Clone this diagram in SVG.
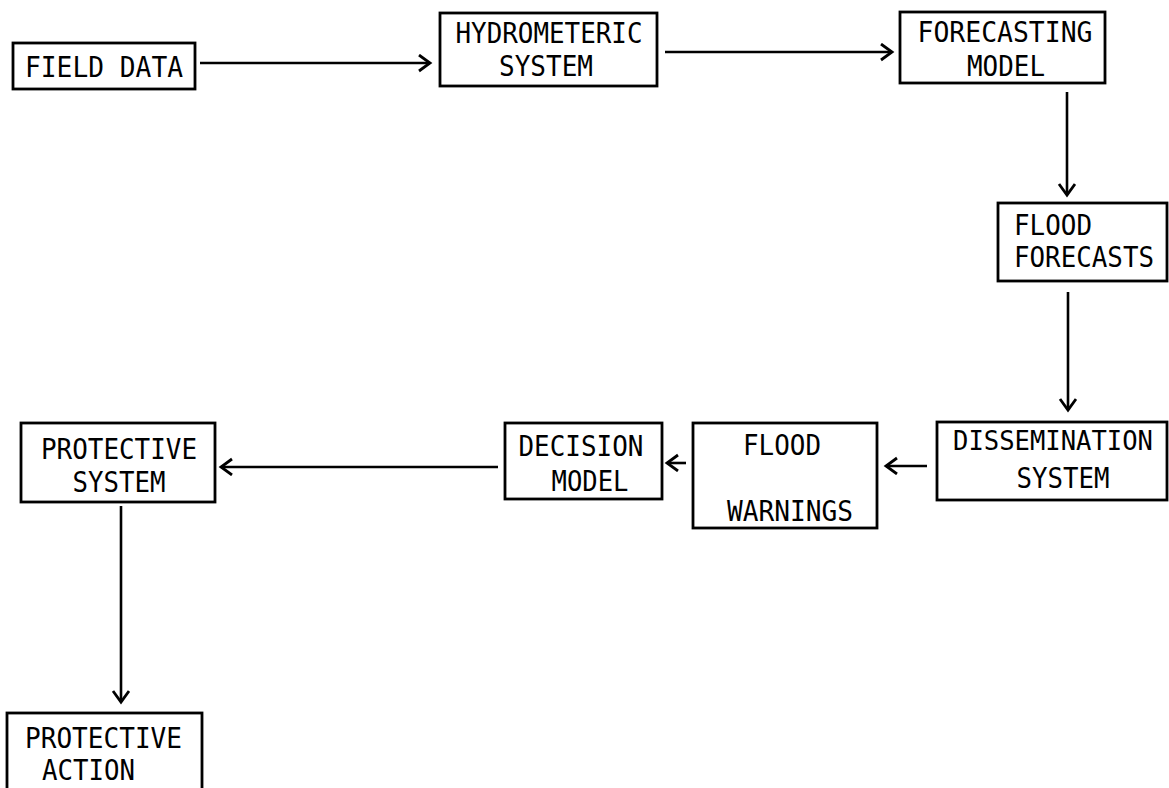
<svg xmlns="http://www.w3.org/2000/svg" width="1169" height="788" viewBox="0 0 1169 788">
<style>
.box{fill:#fff;stroke:#000;stroke-width:2.8}
.t{font-family:"DejaVu Sans Mono","Liberation Mono",monospace;font-size:29px;fill:#000;text-anchor:middle}
.l{text-anchor:start}
.c{fill:none;stroke:#000;stroke-width:2.6;marker-end:url(#ah)}
</style>
<defs>
<marker id="ah" markerUnits="userSpaceOnUse" markerWidth="16" markerHeight="20" refX="13" refY="9" orient="auto">
<path d="M2,1 L13,9 L2,17" fill="none" stroke="#000" stroke-width="2.8"/>
</marker>
</defs>
<rect width="1169" height="788" fill="#fff"/>
<g id="connectors">
<line class="c" x1="200" y1="63" x2="430" y2="63"/>
<line class="c" x1="665" y1="52" x2="892" y2="52"/>
<line class="c" x1="1067" y1="92" x2="1067" y2="195"/>
<line class="c" x1="1068" y1="292" x2="1068" y2="410"/>
<line class="c" x1="927" y1="466" x2="886" y2="466"/>
<line class="c" x1="686" y1="463" x2="667" y2="463"/>
<line class="c" x1="498" y1="467" x2="221" y2="467"/>
<line class="c" x1="121" y1="506" x2="121" y2="702"/>
</g>
<g id="field-data">
<rect class="box" x="13" y="43" width="182" height="46"/>
<text class="t" x="104" y="77" textLength="158" lengthAdjust="spacingAndGlyphs">FIELD DATA</text>
</g>
<g id="hydrometeric-system">
<rect class="box" x="440" y="13" width="217" height="73"/>
<text class="t" x="549" y="43" textLength="187" lengthAdjust="spacingAndGlyphs">HYDROMETERIC</text>
<text class="t" x="546" y="76" textLength="94" lengthAdjust="spacingAndGlyphs">SYSTEM</text>
</g>
<g id="forecasting-model">
<rect class="box" x="900" y="12" width="205" height="71"/>
<text class="t" x="1005" y="42" textLength="175" lengthAdjust="spacingAndGlyphs">FORECASTING</text>
<text class="t" x="1006" y="76" textLength="78" lengthAdjust="spacingAndGlyphs">MODEL</text>
</g>
<g id="flood-forecasts">
<rect class="box" x="998" y="203" width="169" height="78"/>
<text class="t l" x="1014" y="235" textLength="78" lengthAdjust="spacingAndGlyphs">FLOOD</text>
<text class="t l" x="1014" y="267" textLength="140" lengthAdjust="spacingAndGlyphs">FORECASTS</text>
</g>
<g id="dissemination-system">
<rect class="box" x="937" y="422" width="230" height="78"/>
<text class="t" x="1053" y="450" style="font-size:27px" textLength="200" lengthAdjust="spacingAndGlyphs">DISSEMINATION</text>
<text class="t" x="1063" y="488" textLength="93" lengthAdjust="spacingAndGlyphs">SYSTEM</text>
</g>
<g id="flood-warnings">
<rect class="box" x="693" y="423" width="184" height="105"/>
<text class="t" x="782" y="455" textLength="78" lengthAdjust="spacingAndGlyphs">FLOOD</text>
<text class="t" x="790" y="521" textLength="126" lengthAdjust="spacingAndGlyphs">WARNINGS</text>
</g>
<g id="decision-model">
<rect class="box" x="505" y="423" width="157" height="76"/>
<text class="t" x="581" y="456" textLength="125" lengthAdjust="spacingAndGlyphs">DECISION</text>
<text class="t" x="590" y="491" textLength="77" lengthAdjust="spacingAndGlyphs">MODEL</text>
</g>
<g id="protective-system">
<rect class="box" x="21" y="423" width="194" height="79"/>
<text class="t" x="119" y="459" textLength="156" lengthAdjust="spacingAndGlyphs">PROTECTIVE</text>
<text class="t" x="119" y="492" textLength="93" lengthAdjust="spacingAndGlyphs">SYSTEM</text>
</g>
<g id="protective-action">
<rect class="box" x="7" y="713" width="195" height="100"/>
<text class="t l" x="25" y="748" textLength="157" lengthAdjust="spacingAndGlyphs">PROTECTIVE</text>
<text class="t l" x="42" y="780" textLength="93" lengthAdjust="spacingAndGlyphs">ACTION</text>
</g>
</svg>
